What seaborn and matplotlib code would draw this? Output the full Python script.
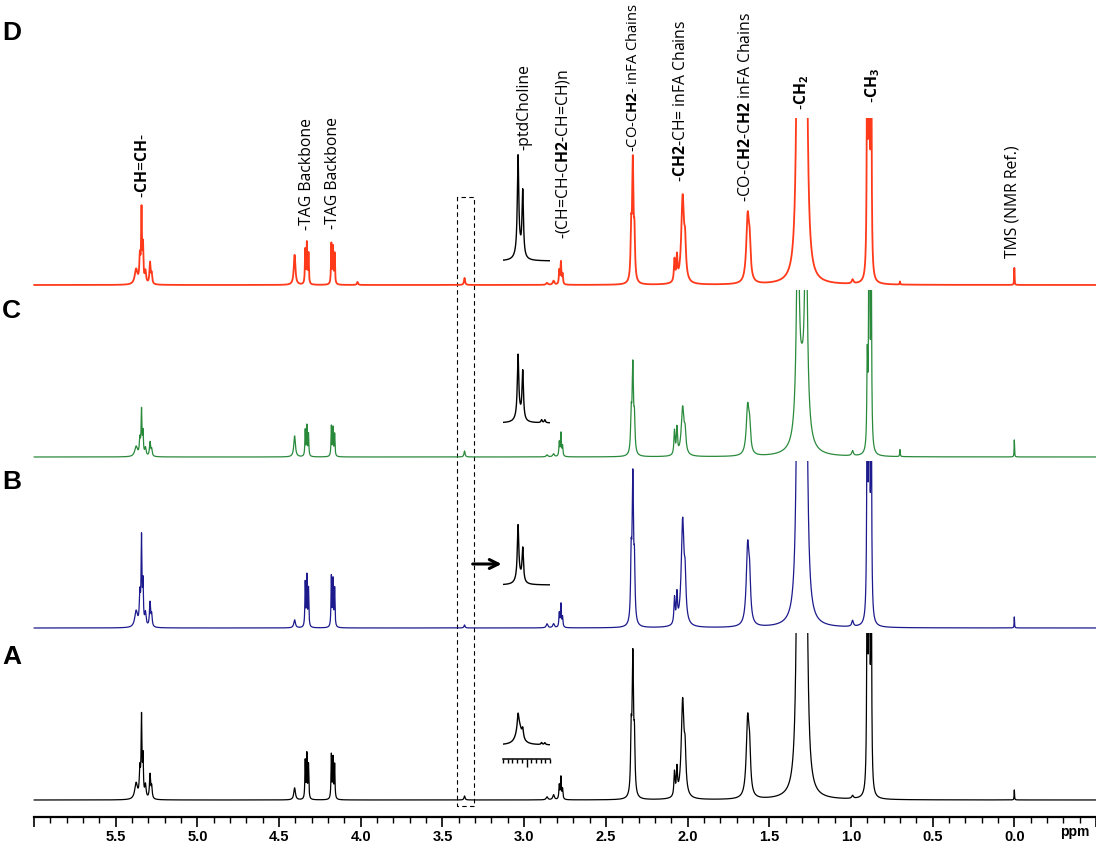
import numpy as np
import pandas as pd
import seaborn as sns
import matplotlib.pyplot as plt
from matplotlib.patches import Rectangle
from matplotlib.ticker import MultipleLocator, FuncFormatter

# line positions (ppm) and half widths, shared by the four spectra
peak_ppm = [5.375, 5.352, 5.342, 5.333, 5.318, 5.290, 5.280,
            4.405, 4.340, 4.330, 4.320, 4.180, 4.170, 4.160, 4.020,
            3.365, 2.860, 2.820, 2.785, 2.775, 2.765,
            2.345, 2.335, 2.325, 2.080, 2.065, 2.030, 2.015,
            1.632, 1.620, 1.325, 1.300, 1.275, 1.300,
            0.990, 0.900, 0.888, 0.876, 0.700, 0.000]
peak_hw = [0.010, 0.004, 0.003, 0.003, 0.005, 0.004, 0.004,
           0.006, 0.0025, 0.0025, 0.0025, 0.0025, 0.0025, 0.0025, 0.004,
           0.004, 0.006, 0.006, 0.003, 0.003, 0.003,
           0.004, 0.005, 0.004, 0.004, 0.004, 0.010, 0.006,
           0.010, 0.007, 0.010, 0.015, 0.010, 0.040,
           0.006, 0.003, 0.003, 0.003, 0.002, 0.0015]

# line intensities per sample
amp_a = [16, 27, 78, 38, 13, 24, 12,
         12, 38, 44, 34, 44, 40, 34, 0,
         4, 3, 5, 14, 22, 10,
         55, 137, 48, 24, 26, 97, 34,
         77, 35, 300, 120, 300, 0,
         3, 300, 400, 250, 0, 10]
amp_b = [16, 30, 85, 40, 13, 24, 12,
         8, 44, 50, 38, 50, 46, 38, 0,
         3, 4, 4, 14, 23, 10,
         58, 144, 50, 26, 28, 105, 36,
         78, 35, 300, 120, 300, 0,
         6, 300, 400, 250, 0, 11]
amp_c = [10, 16, 44, 22, 8, 14, 7,
         21, 26, 30, 22, 30, 28, 22, 0,
         6, 2, 3, 14, 23, 10,
         35, 88, 30, 24, 26, 48, 18,
         48, 22, 220, 28, 220, 25,
         5, 85, 400, 200, 7, 17]
amp_d = [15, 25, 71, 35, 12, 21, 10,
         30, 34, 40, 30, 40, 36, 30, 3,
         7, 2, 4, 14, 22, 10,
         45, 118, 40, 22, 24, 86, 30,
         65, 30, 300, 120, 300, 0,
         4, 300, 400, 250, 3, 17]

sample_names = ["A", "B", "C", "D"]
sample_colors = ["#000000", "#1c1a8c", "#2a8a3c", "#ff3a1a"]

# expansions of the 3.36 ppm signal (insets)
inset_ppm = [3.368, 3.358, 3.366, 3.318, 3.311]
inset_hw = [0.0018, 0.0018, 0.007, 0.0015, 0.0015]
inset_a = [13, 9, 20, 2, 2]
inset_b = [52, 33, 8, 0, 0]
inset_c = [60, 48, 8, 3, 3]
inset_d = [95, 65, 10, 0, 0]

label_texts = [r"-$\mathbf{CH}$=$\mathbf{CH}$-",
               "-TAG Backbone",
               "-TAG Backbone",
               "-ptdCholine",
               r"-(CH=CH-C$\mathbf{H2}$-CH=CH)n",
               r"-CO-C$\mathbf{H2}$- inFA Chains",
               r"-$\mathbf{CH2}$-CH= inFA Chains",
               r"-CO-C$\mathbf{H2}$-C$\mathbf{H2}$ inFA Chains",
               r"-$\mathbf{CH_2}$",
               r"-$\mathbf{CH_3}$",
               "TMS (NMR Ref.)"]
label_ppm = [5.33, 4.33, 4.17, 3.00, 2.76, 2.33, 2.04, 1.645, 1.30, 0.87, 0.01]
label_y = [602, 570, 571, 650, 561, 648, 618, 598, 690, 697, 542]
label_size = [11.3, 11.3, 11.3, 11.3, 11.3, 10.6, 11.3, 11.3, 11.3, 11.3, 11.3]


def spectrum(x, centers, widths, amps):
    y = np.zeros_like(x)
    for c, w, a in zip(centers, widths, amps):
        y += a * w ** 2 / ((x - c) ** 2 + w ** 2)
    return y


sns.set_theme(style="white")
plt.rcParams["font.family"] = ["Open Sans", "DejaVu Sans"]
plt.rcParams["mathtext.fontset"] = "custom"
plt.rcParams["mathtext.rm"] = "Open Sans"
plt.rcParams["mathtext.it"] = "Open Sans:italic"
plt.rcParams["mathtext.bf"] = "Open Sans:bold"
plt.rcParams["text.color"] = "black"
plt.rcParams["xtick.color"] = "black"
plt.rcParams["axes.edgecolor"] = "black"

W, H = 1096, 847
fig = plt.figure(figsize=(W / 100, H / 100), dpi=100)
fig.patch.set_facecolor("white")
ax = fig.add_axes([34 / W, 30 / H, 1062 / W, 817 / H])
ax.set_facecolor("white")

offsets = [0, 172, 343, 515]
clip_h = 167
ppm = np.linspace(6.0, -0.5, 26001)
amps = [amp_a, amp_b, amp_c, amp_d]
lws = [0.9, 0.9, 0.9, 1.3]

for name, col, off, amp, lw in zip(sample_names, sample_colors, offsets, amps, lws):
    df = pd.DataFrame({"ppm": ppm,
                       "intensity": off + spectrum(ppm, peak_ppm, peak_hw, amp)})
    sns.lineplot(data=df, x="ppm", y="intensity", ax=ax, color=col, lw=lw,
                 estimator=None, sort=False)
    line = ax.lines[-1]
    line.set_clip_path(Rectangle((-1, off - 20), 8, clip_h + 20,
                                 transform=ax.transData))

ax.set_xlim(6.0, -0.5)
ax.set_ylim(-17, 800)
ax.set_xlabel("")
ax.set_ylabel("")
ax.set_yticks([])
for s in ["top", "left", "right"]:
    ax.spines[s].set_visible(False)
ax.spines["bottom"].set_color("black")
ax.spines["bottom"].set_linewidth(1.6)
ax.xaxis.set_major_locator(MultipleLocator(0.5))
ax.xaxis.set_minor_locator(MultipleLocator(0.1))
ax.xaxis.set_major_formatter(FuncFormatter(
    lambda v, p: "" if v > 5.9 or v < -0.05 else f"{abs(v):.1f}"))
ax.tick_params(axis="x", which="major", direction="out", length=7, width=1.2,
               color="black", pad=2, bottom=True)
ax.tick_params(axis="x", which="minor", direction="out", length=4.5, width=1.0,
               color="black", bottom=True)
tick_font = ["Liberation Sans Narrow", "Liberation Sans", "DejaVu Sans"]
for t in ax.get_xticklabels():
    t.set_fontfamily(tick_font)
    t.set_fontweight("bold")
    t.set_fontsize(10.5)
    t.set_color("black")
ax.annotate("ppm", xy=(-0.37, 0), xycoords=("data", "axes fraction"),
            xytext=(0, -11), textcoords="offset points", ha="center", va="center",
            fontsize=10, fontweight="bold", family=tick_font, color="black")

# peak assignments
for txt, xp, yp, fs in zip(label_texts, label_ppm, label_y, label_size):
    ax.text(xp, yp, txt, rotation=90, ha="center", va="bottom",
            fontsize=fs, color="black")

# dashed box around the 3.36 ppm signal
ax.add_patch(Rectangle((3.309, -6), 0.104, 609, fill=False, ec="black",
                       lw=0.8, ls=(0, (4, 3)), clip_on=False))

# arrow in panel B
ax.annotate("", xy=(3.138, 236), xytext=(3.315, 236),
            arrowprops=dict(arrowstyle="->", lw=2.2, color="black",
                            mutation_scale=16, shrinkA=0, shrinkB=0))

# panel letters
for name, yp in zip(["D", "C", "B", "A"], [33, 311, 482, 657]):
    fig.text(2 / W, 1 - yp / H, name, ha="left", va="center", fontsize=19,
             fontweight="bold", color="black",
             family=["Liberation Sans", "DejaVu Sans"])

# insets
ins_x = np.linspace(3.40, 3.30, 801)
ins_amps = [inset_a, inset_b, inset_c, inset_d]
ins_base = [745, 585, 423, 261]
for i, (amp, base) in enumerate(zip(ins_amps, ins_base)):
    bottom = 759 if i == 0 else base + 5
    top = base - 112
    iax = fig.add_axes([503 / W, 1 - bottom / H, 47 / W, (bottom - top) / H])
    iax.patch.set_alpha(0)
    dfi = pd.DataFrame({"ppm": ins_x,
                        "intensity": spectrum(ins_x, inset_ppm, inset_hw, amp)})
    sns.lineplot(data=dfi, x="ppm", y="intensity", ax=iax, color="black", lw=1.0,
                 estimator=None, sort=False)
    iax.set_xlim(3.40, 3.30)
    iax.set_ylim(base - bottom, 112)
    iax.set_xlabel("")
    iax.set_ylabel("")
    iax.set_yticks([])
    for s in ["top", "left", "right"]:
        iax.spines[s].set_visible(False)
    if i == 0:
        iax.spines["bottom"].set_color("black")
        iax.spines["bottom"].set_linewidth(1.1)
        iax.set_xticks([3.35])
        iax.set_xticks(np.arange(3.30, 3.4001, 0.01), minor=True)
        iax.set_xticklabels([])
        iax.tick_params(axis="x", which="major", direction="out", length=6,
                        width=1.0, color="black", bottom=True)
        iax.tick_params(axis="x", which="minor", direction="out", length=3,
                        width=1.0, color="black", bottom=True)
    else:
        iax.spines["bottom"].set_visible(False)
        iax.set_xticks([])

fig.savefig("out.png", dpi=100, facecolor="white")
